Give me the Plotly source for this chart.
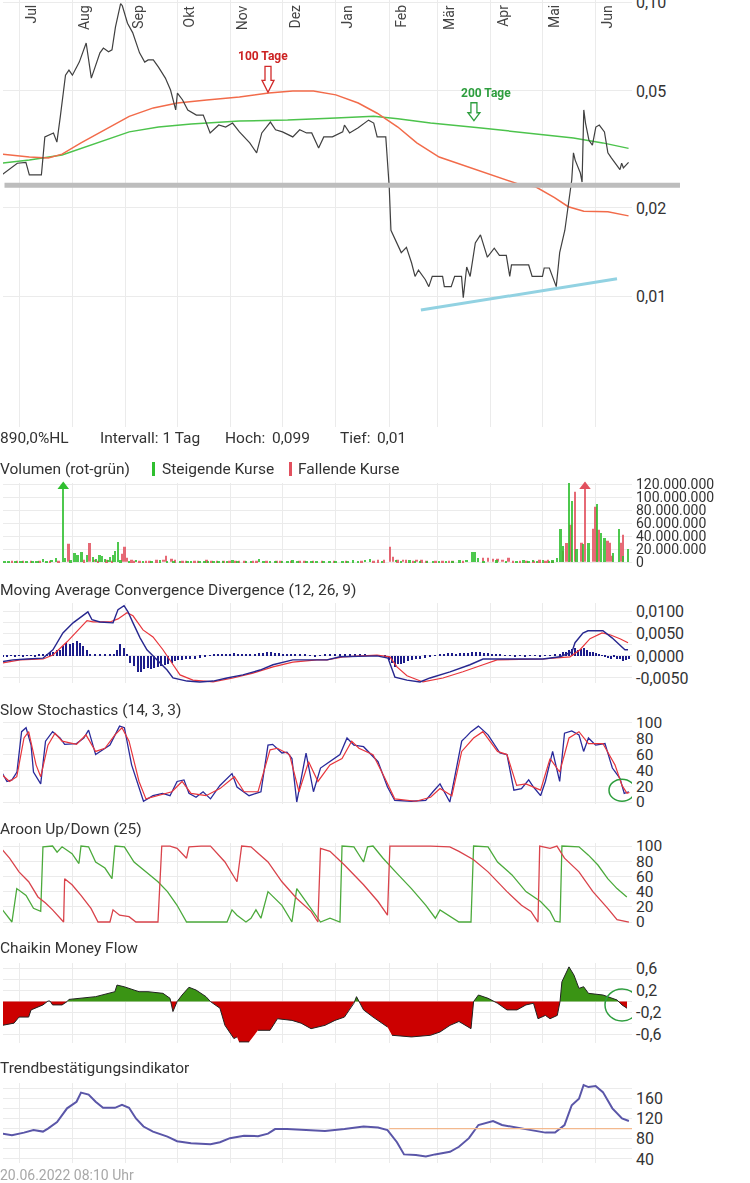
import math
import pandas as pd
import plotly.graph_objects as go

W, H = 750, 1183
BASE = pd.Timestamp("2021-07-01")
X_RANGE = [-9.3, 356.0]          # days relative to 2021-07-01

month_days = [0, 31, 62, 92, 123, 153, 184, 215, 243, 274, 304, 335]
month_labels = ["Jul", "Aug", "Sep", "Okt", "Nov", "Dez", "Jan", "Feb", "Mär", "Apr", "Mai", "Jun"]

# ---------------- price panel (day, value) ----------------
price_pts = [
    (-10, 0.0259), (-1, 0.0284), (4, 0.0286), (6, 0.0259), (13, 0.0259), (14, 0.0298), (15, 0.0349), (20, 0.036),
    (22, 0.0335), (24, 0.041), (27, 0.0566), (29, 0.0589), (31, 0.0566), (35, 0.0627), (38, 0.0705), (39, 0.0728),
    (42, 0.0553), (45, 0.0622), (47, 0.0674), (49, 0.07), (52, 0.068), (54, 0.069), (56, 0.0825), (59, 0.0992),
    (60, 0.0975), (63, 0.085), (66, 0.079), (70, 0.0674), (73, 0.0627), (75, 0.0638), (78, 0.0638), (81, 0.0603),
    (85, 0.0553), (88, 0.0504), (91, 0.0431), (92, 0.0492), (95, 0.0466), (98, 0.0431), (103, 0.0414), (107, 0.0414),
    (111, 0.036), (116, 0.0383), (120, 0.0377), (124, 0.0389), (128, 0.0363), (134, 0.0333), (138, 0.0308),
    (141, 0.036), (146, 0.0392), (149, 0.0369), (153, 0.0363), (159, 0.0349), (163, 0.0369), (167, 0.036),
    (170, 0.036), (174, 0.032), (177, 0.0349), (182, 0.0349), (188, 0.0363), (189, 0.0383), (192, 0.036),
    (197, 0.0375), (203, 0.0398), (206, 0.0389), (208, 0.0349), (213, 0.0349), (215, 0.0236), (216, 0.0168),
    (218, 0.0159), (222, 0.0141), (225, 0.0147), (228, 0.013), (230, 0.0117), (232, 0.0123), (236, 0.0114),
    (238, 0.0108), (240, 0.0117), (246, 0.0117), (247, 0.0108), (251, 0.0108), (253, 0.0117), (257, 0.0117),
    (258, 0.0099), (260, 0.0126), (262, 0.0117), (265, 0.0152), (268, 0.0162), (272, 0.0136), (276, 0.0146),
    (279, 0.0138), (283, 0.0138), (285, 0.0117), (286, 0.0128), (296, 0.0128), (298, 0.0117), (304, 0.0117),
    (305, 0.0125), (308, 0.0125), (312, 0.0108), (314, 0.0141), (317, 0.0168), (319, 0.0202), (321, 0.0249),
    (322, 0.0308), (323, 0.0291), (326, 0.0263), (327, 0.0245), (328, 0.0431), (329, 0.0389), (331, 0.034),
    (333, 0.0327), (335, 0.0377), (337, 0.0383), (340, 0.0363), (342, 0.0308), (344, 0.0296), (349, 0.027),
    (350, 0.0284), (351, 0.0274), (354, 0.0286)]
ma100_pts = [
    (-10, 0.0305), (6, 0.0298), (17, 0.0296), (25, 0.0305), (36, 0.0333), (50, 0.0369), (64, 0.041), (78, 0.0438),
    (92, 0.0455), (109, 0.0466), (128, 0.0477), (145, 0.0492), (159, 0.05), (171, 0.05), (184, 0.0485),
    (197, 0.0455), (208, 0.042), (220, 0.0377), (231, 0.0333), (244, 0.0298), (261, 0.0276), (278, 0.0255),
    (292, 0.0239), (300, 0.0236), (311, 0.0217), (319, 0.0202), (328, 0.0195), (342, 0.0194), (354, 0.0188)]
ma200_pts = [
    (-10, 0.0284), (6, 0.0291), (25, 0.0303), (45, 0.0333), (64, 0.0363), (81, 0.0377), (100, 0.0386),
    (128, 0.0395), (156, 0.0398), (184, 0.0405), (206, 0.041), (220, 0.0402), (239, 0.0389), (267, 0.0375),
    (294, 0.036), (322, 0.0346), (339, 0.0333), (354, 0.0319)]
support_pts = [(233.4, 0.00899), (347.3, 0.01149)]
gray_level = 0.0239
price_ticks = [0.01, 0.02, 0.05, 0.10]
price_ticktext = ["0,01", "0,02", "0,05", "0,10"]

# ---------------- volume (day, millions) ----------------
vol_up = [
    (-9, 2), (-8, 1), (-6, 1.5), (-2, 1.5), (0.6, 2), (2, 1), (4.5, 1.5), (8, 2), (10, 2), (11, 1.5), (14, 5),
    (16, 2), (19, 4), (21.5, 7), (25.7, 200), (27, 6), (30, 3), (32.5, 14), (34, 12), (36.4, 16), (39.7, 11),
    (43, 8), (45, 5), (47, 12), (48, 10), (50, 5), (52, 4), (53, 8), (55, 12), (56, 18), (57.5, 31), (59, 3),
    (64, 2), (68, 4), (72, 1.5), (77, 2), (82, 3), (86, 2), (90, 1.5), (93.5, 2), (98, 2), (100, 1.5),
    (105, 2.5), (108, 2), (110, 1.5), (113, 2), (116, 2), (118.6, 2.5), (121, 1.5), (124, 3), (127, 2),
    (132, 2), (135, 1.5), (139.5, 5), (142, 2), (146, 2), (149, 1.5), (153, 2.5), (156, 2), (159, 3),
    (162, 1.5), (167, 2), (170, 2), (173, 2), (177, 1.5), (180.6, 2), (184, 2), (188, 2), (191, 1.5), (194, 3),
    (197, 2), (201, 4), (204, 5), (211, 2), (219, 4), (222, 2), (227, 3), (230, 2), (233, 2.5), (237, 1.5),
    (240.5, 2), (244, 2), (248, 2), (252, 2), (256, 3), (260, 4), (263.5, 16), (264.8, 16), (266.7, 7),
    (270, 2), (277.4, 3), (283, 2), (289, 2), (293, 3), (296, 2), (298.5, 4), (301, 2), (304.5, 3), (308, 2),
    (310, 3), (312.6, 6), (314.6, 52), (316, 25), (319.6, 122), (321.3, 95), (324, 20), (327.7, 28),
    (331, 30), (335.8, 89), (338, 45), (340.3, 38), (345, 15), (348.6, 52), (351, 10), (353.8, 21)]
vol_dn = [
    (-4, 1.5), (-1, 1), (2.5, 1.5), (7, 1.5), (12, 2), (18, 1.5), (23, 2), (29, 28), (38, 3), (41, 30),
    (44, 4), (46, 2), (51, 3), (54, 2), (60, 13), (61.5, 24), (63, 7), (65.4, 3), (67, 2), (70, 2), (74, 2),
    (76, 1.5), (80, 3), (84, 4), (85.4, 10), (88.7, 5), (90.6, 3), (95, 2), (97, 1.5), (102, 2), (104, 1.5),
    (109, 3), (112, 2), (115, 1.5), (119, 1.5), (122.5, 2), (126, 2), (128, 2.5), (131, 1.5), (136, 2),
    (138, 2), (144, 1.5), (149.6, 2), (152, 2), (158, 2), (163, 2), (166, 1.5), (171, 1.5), (176, 2),
    (183, 2), (190, 1.5), (199, 2), (206, 2), (208.7, 3), (212, 3), (215.5, 24), (217.4, 8), (220, 3),
    (223, 4), (225, 3), (229, 2), (231, 3.5), (234, 3), (236.8, 2.5), (242, 2), (246, 2), (250, 2),
    (252, 2.5), (258, 2), (269.6, 7), (272.5, 6), (275.4, 5), (278, 5), (281, 4), (284.5, 6), (287, 2),
    (291, 2), (295, 2), (299, 2), (302.5, 3), (306, 2), (307.4, 3), (310, 2), (316, 18), (318, 29),
    (320.4, 57), (322.9, 108), (326.8, 29), (328.7, 200), (333.5, 52), (334.9, 85), (336.8, 49), (341.9, 33),
    (343.2, 30), (344.2, 9), (350, 29), (350.8, 42)]
vol_clipped_up = [(25.7, 116)]
vol_clipped_dn = [(328.7, 116)]
vol_ticks = [0, 20, 40, 60, 80, 100, 120]
vol_ticktext = ["0", "20.000.000", "40.000.000", "60.000.000", "80.000.000", "100.000.000", "120.000.000"]

# ---------------- MACD ----------------
macd_pts = [
    (-10, -0.0013), (-3.5, -0.0009), (4.6, -0.0007), (14, -0.0005), (19.7, 0.0014), (25.5, 0.0052), (31.4, 0.0075),
    (37.2, 0.0093), (40, 0.01), (42.4, 0.0082), (47, 0.0077), (54.6, 0.0075), (57.5, 0.0105), (61, 0.0114),
    (63.3, 0.01), (66.2, 0.0075), (70.3, 0.0041), (74.3, 0.0014), (80.1, -0.0009), (86, -0.0032), (89.4, -0.005),
    (97.6, -0.0057), (105, -0.0059), (112.7, -0.0057), (120.8, -0.005), (130, -0.0043), (140, -0.0032),
    (147.5, -0.002), (159, -0.0009), (173, -0.0009), (178.9, -0.0009), (186.4, -0.0002), (207.9, 0.0),
    (214.3, -0.0005), (216.6, -0.0032), (218.3, -0.0048), (225.3, -0.0055), (232.9, -0.0059), (238.7, -0.005),
    (250.3, -0.0036), (261.9, -0.002), (269.5, -0.0007), (285.1, -0.0007), (304.3, -0.0007), (314.2, -0.0002),
    (321.1, 0.0009), (322.9, 0.003), (327.5, 0.0052), (330.4, 0.0057), (339.1, 0.0057), (344.4, 0.0041),
    (349, 0.0025), (351.9, 0.0014), (353.7, 0.0014)]
signal_pts = [
    (-9.9, -0.0016), (0.6, -0.0009), (14, -0.0007), (19.7, 0.0002), (27.9, 0.0032), (33.7, 0.0055), (39.5, 0.008),
    (43, 0.0077), (52.8, 0.0077), (57.5, 0.0084), (62.7, 0.0098), (66.2, 0.0091), (72, 0.0059), (77.8, 0.0043),
    (83.6, 0.0014), (88.8, -0.0016), (93.5, -0.0043), (101, -0.0055), (112.7, -0.0059), (124.3, -0.005),
    (135.9, -0.0039), (147.5, -0.0025), (159, -0.0014), (173, -0.0009), (178.9, -0.0009), (188.1, -0.0002),
    (207.9, 0.0002), (215.4, -0.0002), (219.5, -0.0025), (225.3, -0.0045), (234.6, -0.0059), (246.2, -0.005),
    (257.8, -0.0036), (269.5, -0.002), (277.6, -0.0009), (304.3, -0.0007), (320, -0.0002), (325.8, 0.0014),
    (331.6, 0.0039), (338.6, 0.0052), (343.2, 0.0048), (349, 0.0039), (353.7, 0.003)]
hist_pts = [
    (-9.3, -0.0002), (-7, -0.0002), (-4.6, 0.0002), (-2.3, -0.0002), (0, 0.0002), (2.3, -0.0002), (4.6, 0.0002),
    (7, 0.0002), (9.3, -0.0001), (11.6, 0.0003), (14, 0.0003), (16.3, 0.0005), (18, 0.0008), (19.7, 0.001),
    (22, 0.0014), (23.8, 0.0014), (25.5, 0.0023), (27.3, 0.003), (29.6, 0.0027), (31.4, 0.003), (33.7, 0.0034),
    (35.4, 0.003), (37.2, 0.0023), (39.5, 0.0014), (41.2, 0.0005), (44.1, 0.0003), (47, 0.0003), (50, 0.0004),
    (52.8, 0.0003), (55.2, 0.0005), (56.9, 0.0014), (58.7, 0.0027), (61, 0.0018), (62.7, 0.0005),
    (64.5, -0.0015), (66.8, -0.0022), (69.1, -0.0036), (70.8, -0.0036), (72.6, -0.003), (74.9, -0.0027),
    (76.7, -0.003), (78.4, -0.0027), (80.7, -0.0025), (82.5, -0.0023), (84.8, -0.002), (86.5, -0.0018),
    (88.8, -0.0015), (90.6, -0.0012), (92.3, -0.0009), (94.7, -0.0009), (97, -0.0008), (99.3, -0.0006),
    (102.2, -0.0007), (105.1, -0.0004), (108, -0.0003), (110.9, 0.0002), (113.2, 0.0003), (115.6, 0.0004),
    (117.9, 0.0005), (120.2, 0.0005), (122.5, 0.0004), (124.8, 0.0006), (127.2, 0.0005), (129.5, 0.0003),
    (131.8, 0.0005), (134.1, 0.0004), (137, 0.0004), (139.4, 0.0006), (141.7, 0.0007), (144, 0.0008),
    (146.3, 0.0008), (148.7, 0.0007), (151, 0.0006), (153.3, 0.0005), (155.6, 0.0004), (158, 0.0003),
    (160.3, 0.0004), (163.2, 0.0003), (166.1, 0.0003), (169, 0.0002), (171.9, -0.0002), (174.8, 0.0002),
    (177.7, 0.0003), (180.6, 0.0004), (183.5, 0.0003), (186.4, 0.0004), (189.3, 0.0004), (192.2, 0.0003),
    (195.1, 0.0003), (198, 0.0004), (200.9, 0.0004), (203.8, 0.0002), (206.7, 0.0002), (209.6, 0.0002),
    (212.5, -0.0003), (214.9, -0.001), (216.6, -0.0015), (218.3, -0.0025), (220.1, -0.0018), (221.8, -0.0018),
    (223.6, -0.0015), (225.9, -0.0012), (228.2, -0.0009), (230.5, -0.0007), (232.9, -0.0006), (235.8, -0.0004),
    (238.7, -0.0002), (241.6, 0.0002), (244.5, 0.0004), (246.8, 0.0005), (249.1, 0.0006), (251.4, 0.0006),
    (253.8, 0.0005), (256.1, 0.0006), (258.4, 0.0006), (260.7, 0.0007), (263.1, 0.0009), (265.4, 0.0009),
    (267.7, 0.0008), (270, 0.0007), (272.4, 0.0006), (274.7, 0.0005), (277, 0.0004), (279.3, 0.0003),
    (282.2, 0.0002), (285.1, 0.0002), (288, -0.0002), (290.9, 0.0002), (293.8, -0.0002), (296.7, 0.0002),
    (299.6, 0.0002), (302.5, -0.0002), (305.5, 0.0002), (308.4, 0.0002), (311.3, 0.0003), (314.2, 0.0005),
    (315.9, 0.0008), (317.6, 0.001), (319.4, 0.0014), (321.1, 0.0016), (322.9, 0.0018), (324.6, 0.0014),
    (326.4, 0.0016), (328.1, 0.0018), (329.8, 0.0014), (331.6, 0.001), (333.3, 0.0008), (335.1, 0.0006),
    (336.8, 0.0004), (338.6, 0.0002), (340.3, -0.0003), (342, -0.0005), (343.8, -0.0007), (345.5, -0.0003),
    (347.3, -0.0006), (349, -0.0008), (350.7, -0.0011), (352.5, -0.0009), (354.2, -0.0008)]
macd_ticks = [-0.005, 0.0, 0.005, 0.01]
macd_ticktext = ["-0,0050", "0,0000", "0,0050", "0,0100"]

# ---------------- Slow stochastics ----------------
stoch_k_days = [-9.6, -7, -4.1, -1.2, 1.5, 4.1, 7, 8.4, 12.6, 15.4, 19.5, 23.8, 26.5, 33.4, 37.6, 40.4, 44.5, 48.8,
                52.8, 58.4, 61.2, 65.4, 72.3, 77.8, 83.4, 87.7, 91.8, 95.8, 98.7, 102.8, 106.9, 111.2, 116.7, 123.7,
                126.6, 133.6, 140.5, 144.6, 147.3, 152.7, 155.6, 158.5, 161.3, 166.7, 171, 175.1, 180.6, 186.4,
                190.5, 194.5, 200.1, 208.5, 214, 218.2, 227.9, 236.2, 240.4, 244.5, 250.2, 257.1, 259.9, 262.5,
                266.8, 272.4, 279.3, 283.4, 287.4, 291.8, 296, 298.8, 302.9, 305.7, 309.9, 314, 316.8, 321, 325.2,
                327.9, 330.7, 334.9, 340.3, 344.6, 349, 351.5, 354.2]
stoch_k_vals = [36, 26, 28, 38, 89, 94, 72, 38, 23, 77, 89, 81, 73, 74, 81, 91, 60, 66, 72, 96, 94, 47, 1, 8, 11,
                8, 26, 28, 11, 6, 13, 4, 21, 36, 19, 8, 13, 72, 73, 62, 63, 55, 0, 62, 13, 43, 51, 60, 81, 72, 70,
                51, 19, 2, 1, 2, 13, 23, 0, 77, 83, 89, 96, 85, 62, 60, 15, 17, 28, 19, 8, 26, 64, 26, 87, 90, 85,
                64, 81, 72, 74, 43, 30, 11, 13]
stoch_d_days = [-9.6, -5.5, -1.3, 2.9, 5.6, 9.9, 12.6, 16.8, 20.9, 25, 33.4, 38.9, 44.5, 49.9, 55.7, 59.8, 63.9,
                69.7, 73.7, 80.7, 88.8, 94.7, 99.9, 108.6, 116.7, 125.1, 130.7, 138.8, 145.8, 150.1, 157.1, 162.6,
                168.2, 173.6, 180.6, 187.6, 193.2, 197.4, 205.6, 212.5, 218.2, 230.5, 239, 244.5, 251.4, 257.1, 264,
                269.4, 277.9, 283.4, 289, 294.4, 302.9, 308.4, 314, 319.4, 325.2, 330.7, 339.1, 346.1, 350.2, 353.1,
                354.5]
stoch_d_vals = [34, 26, 32, 81, 89, 47, 32, 72, 87, 77, 73, 85, 64, 68, 85, 94, 77, 26, 4, 8, 13, 26, 11, 8, 17,
                32, 13, 13, 66, 68, 60, 13, 51, 26, 47, 55, 77, 68, 60, 30, 4, 1, 6, 17, 8, 64, 81, 89, 64, 60, 21,
                23, 15, 55, 38, 81, 89, 74, 74, 47, 21, 11, 12]
pct_ticks = [0, 20, 40, 60, 80, 100]
pct_ticktext = ["0", "20", "40", "60", "80", "100"]
stoch_mark = (350.2, 15)

# ---------------- Aroon ----------------
aroon_up = [
    (-9.6, 16), (-4.1, 0), (-1.3, 44), (4.1, 35), (8.4, 18), (12.6, 14), (13.9, 99), (19.5, 100), (22.1, 92),
    (25, 99), (30.8, 90), (34.8, 77), (36, 100), (40.4, 99), (44.5, 79), (49.9, 71), (54, 57), (55.7, 100),
    (61.2, 99), (66.8, 79), (74.9, 64), (80.7, 53), (86.2, 40), (91.8, 22), (97.3, 0), (120.8, 0), (123.7, 16),
    (126.6, 9), (131.8, 0), (134.7, 5), (137.6, 16), (140.5, 5), (144.6, 40), (148.7, 31), (152.7, 22),
    (158.5, 0), (161.3, 44), (166.7, 27), (172.5, 9), (175.1, 0), (180.6, 5), (186.4, 0), (187.6, 100),
    (194.5, 99), (200.1, 79), (202.4, 99), (205.6, 100), (211.4, 84), (219.5, 64), (227.9, 44), (236.3, 22),
    (241.8, 5), (244.5, 16), (250.3, 7), (255.5, 0), (262.5, 0), (264, 100), (272.4, 99), (277.9, 79),
    (286.3, 62), (294.4, 40), (302.9, 27), (308.4, 14), (311.3, 1), (314.2, 0), (315.3, 100), (325.2, 99),
    (330.7, 88), (336.2, 75), (341.9, 57), (347.3, 44), (353, 33)]
aroon_dn = [
    (-9.6, 95), (-5.5, 84), (0, 66), (5.6, 53), (11, 33), (15.4, 25), (19.5, 16), (23.8, 5), (25.9, 0), (26.5, 57),
    (30.8, 49), (36, 35), (41.8, 18), (45.9, 0), (52.8, 0), (54.6, 16), (58.4, 9), (63.9, 7), (67.9, 0), (80.7, 0),
    (82.9, 100), (87.7, 100), (91.8, 97), (97.3, 84), (98.7, 99), (105.7, 100), (111.2, 100), (119.6, 79),
    (126.6, 53), (129.3, 100), (134.7, 99), (144.6, 79), (152.7, 53), (161.3, 31), (169.6, 14), (173.6, 0),
    (175.1, 97), (180.6, 93), (189, 75), (200.1, 49), (208.5, 27), (214, 9), (215.4, 100), (225.1, 100),
    (239, 100), (250.2, 99), (255.5, 93), (264, 82), (272.4, 66), (283.4, 40), (291.8, 22), (297.3, 14),
    (301.4, 0), (302.4, 100), (308.4, 97), (312.4, 100), (316.8, 84), (325.2, 66), (333.3, 40), (341.9, 18),
    (347.3, 3), (354.2, 0)]

# ---------------- Chaikin money flow (None = gap) ----------------
cmf_pts = [
    (-9.6, -0.43), (-2.9, -0.39), (0, -0.28), (5.6, -0.28), (7, -0.15), (13.9, -0.06), (16.8, 0.01), (18, 0.01),
    (19.5, -0.06), (25, -0.06), (27.9, 0.0), (29, 0.04), (44.5, 0.09), (55.7, 0.18), (56.9, 0.3), (61, 0.27),
    (69.7, 0.18), (74.9, 0.18), (83.6, 0.15), (87.7, 0.06), (89.4, -0.18), (91.8, 0.0), (94.7, 0.12),
    (98.7, 0.26), (102.8, 0.21), (108.6, 0.09), (111.2, 0.0), (116.7, -0.12), (119.6, -0.43), (124.8, -0.67),
    (126.6, -0.64), None, (127.8, -0.73), (133.6, -0.73), None, (138.8, -0.52), (145.8, -0.52), (150.1, -0.31),
    (158.5, -0.34), (163.8, -0.39), (169.6, -0.49), (177.7, -0.43), (183.5, -0.34), (189, -0.28), (194.5, -0.03),
    (196, 0.09), (200.1, -0.15), (205.6, -0.28), (214, -0.46), None, (216.6, -0.61), (227.9, -0.64),
    (239, -0.61), (244.5, -0.55), (250.3, -0.43), (255.5, -0.36), (262.5, -0.49), (264, 0.0), (266.8, 0.12),
    (272.4, 0.06), (277.9, -0.03), (283.4, -0.15), (289.2, -0.15), (294.4, -0.06), (298.8, -0.03),
    (301.4, -0.31), (305.7, -0.25), (308.4, -0.31), (312.6, -0.25), (314.2, 0.0), (315.3, 0.36), (319.4, 0.63),
    (322.3, 0.48), (325.2, 0.24), (327.9, 0.27), (330.7, 0.15), (339.1, 0.12), (347.3, 0.03), (350.2, -0.06),
    (353.1, -0.12)]
cmf_ticks = [-0.6, -0.2, 0.2, 0.6]
cmf_ticktext = ["-0,6", "-0,2", "0,2", "0,6"]
cmf_mark = (350.2, -0.06)

# ---------------- Trendbestätigungsindikator ----------------
tbi_pts = [
    (-9.6, 90), (-4.1, 87), (2.9, 92), (8.4, 97), (13.9, 94), (16.8, 100), (22.1, 113), (27.9, 140), (33.4, 153),
    (36, 171), (40.4, 167), (44.5, 153), (48.8, 141), (55.7, 141), (59.8, 147), (63.9, 141), (67.9, 120),
    (72.3, 104), (77.8, 94), (86.2, 84), (91.8, 75), (99.9, 71), (111.2, 69), (116.7, 73), (122.5, 81),
    (130.7, 86), (138.8, 85), (144.6, 90), (148.7, 99), (155.6, 99), (166.7, 97), (177.7, 95), (189, 99),
    (194.5, 102), (200.1, 104), (208.5, 102), (214, 97), (219.5, 73), (223.6, 49), (230.5, 48), (236.3, 45),
    (241.6, 49), (250.3, 54), (255.5, 64), (261.3, 81), (266.8, 107), (275.3, 115), (280.5, 107), (289.2, 102),
    (297.3, 97), (305.7, 92), (311.3, 92), (316.8, 107), (321, 146), (325.2, 159), (327.9, 186), (330.7, 182),
    (334.9, 184), (339.1, 172), (344.6, 140), (350.2, 120), (354.2, 115)]
tbi_ref_level = 100
tbi_ref_start = 215
tbi_ticks = [40, 80, 120, 160]
tbi_ticktext = ["40", "80", "120", "160"]

# ======================================================================
FONT = "Roboto, Open Sans, sans-serif"
TXT = "#333333"
GRID = "#ebebeb"


def dt(v):
    return None if v is None else BASE + pd.Timedelta(days=float(v))


def xs(pts):
    return [None if p is None else dt(p[0]) for p in pts]


def ys(pts):
    return [None if p is None else p[1] for p in pts]


def split_sign(pts):
    px, py, nx, ny = [], [], [], []
    prev = None
    for p in pts:
        if p is None:
            for L in (px, py, nx, ny):
                L.append(None)
            prev = None
            continue
        x, y = p
        if prev is not None and prev[1] != 0 and y != 0 and (prev[1] > 0) != (y > 0):
            t = prev[1] / (prev[1] - y)
            xc = prev[0] + t * (x - prev[0])
            px.append(dt(xc)); py.append(0); nx.append(dt(xc)); ny.append(0)
        px.append(dt(x)); py.append(max(y, 0))
        nx.append(dt(x)); ny.append(min(y, 0))
        prev = p
    return px, py, nx, ny


# panel pixel extents (top, bottom)
panels = [(0, 427), (482.7, 563.3), (603, 683), (720.6, 804.4), (843, 924.3), (963, 1043), (1083, 1163)]

fig = go.Figure()


def ax(i):
    return ("x" if i == 0 else f"x{i+1}", "y" if i == 0 else f"y{i+1}")


# price
xa, ya = ax(0)
fig.add_trace(go.Scatter(x=xs(ma200_pts), y=ys(ma200_pts), mode="lines", line=dict(color="#4cc34c", width=1.5),
                         xaxis=xa, yaxis=ya))
fig.add_trace(go.Scatter(x=xs(ma100_pts), y=ys(ma100_pts), mode="lines", line=dict(color="#f26b4a", width=1.5),
                         xaxis=xa, yaxis=ya))
fig.add_trace(go.Scatter(x=xs(price_pts), y=ys(price_pts), mode="lines", line=dict(color="#404040", width=1.2),
                         xaxis=xa, yaxis=ya))
fig.add_trace(go.Scatter(x=xs(support_pts), y=ys(support_pts), mode="lines", line=dict(color="#92d2e2", width=3),
                         xaxis=xa, yaxis=ya))

# volume
xa, ya = ax(1)
bw = 1.15 * 86400000
fig.add_trace(go.Bar(x=xs(vol_dn), y=ys(vol_dn), marker=dict(color="#e2505e", line_width=0), width=bw,
                     opacity=0.85, xaxis=xa, yaxis=ya))
fig.add_trace(go.Bar(x=xs(vol_up), y=ys(vol_up), marker=dict(color="#2fbf2f", line_width=0), width=bw,
                     opacity=0.85, xaxis=xa, yaxis=ya))
fig.add_trace(go.Scatter(x=xs(vol_clipped_up), y=ys(vol_clipped_up), mode="markers", cliponaxis=False,
                         marker=dict(symbol="triangle-up", size=10, color="#2fbf2f"), xaxis=xa, yaxis=ya))
fig.add_trace(go.Scatter(x=xs(vol_clipped_dn), y=ys(vol_clipped_dn), mode="markers", cliponaxis=False,
                         marker=dict(symbol="triangle-up", size=10, color="#e2505e"), xaxis=xa, yaxis=ya))

# MACD
xa, ya = ax(2)
fig.add_trace(go.Bar(x=xs(hist_pts), y=ys(hist_pts), marker=dict(color="#1c1c8a", line_width=0),
                     width=0.8 * 86400000, xaxis=xa, yaxis=ya))
fig.add_trace(go.Scatter(x=xs(signal_pts), y=ys(signal_pts), mode="lines", line=dict(color="#e8363c", width=1.2),
                         xaxis=xa, yaxis=ya))
fig.add_trace(go.Scatter(x=xs(macd_pts), y=ys(macd_pts), mode="lines", line=dict(color="#27278f", width=1.4),
                         xaxis=xa, yaxis=ya))

# stochastics
xa, ya = ax(3)
fig.add_trace(go.Scatter(x=[dt(v) for v in stoch_k_days], y=stoch_k_vals, mode="lines",
                         line=dict(color="#2a2a9a", width=1.3), xaxis=xa, yaxis=ya))
fig.add_trace(go.Scatter(x=[dt(v) for v in stoch_d_days], y=stoch_d_vals, mode="lines",
                         line=dict(color="#e8363c", width=1.2), xaxis=xa, yaxis=ya))

# aroon
xa, ya = ax(4)
fig.add_trace(go.Scatter(x=xs(aroon_up), y=ys(aroon_up), mode="lines", line=dict(color="#4caa3c", width=1.3),
                         xaxis=xa, yaxis=ya))
fig.add_trace(go.Scatter(x=xs(aroon_dn), y=ys(aroon_dn), mode="lines", line=dict(color="#d9434b", width=1.3),
                         xaxis=xa, yaxis=ya))

# chaikin
xa, ya = ax(5)
px_, py_, nx_, ny_ = split_sign(cmf_pts)
fig.add_trace(go.Scatter(x=px_, y=py_, mode="lines", fill="tozeroy", fillcolor="#3a9414", line=dict(width=0),
                         xaxis=xa, yaxis=ya))
fig.add_trace(go.Scatter(x=nx_, y=ny_, mode="lines", fill="tozeroy", fillcolor="#cc0000", line=dict(width=0),
                         xaxis=xa, yaxis=ya))
fig.add_trace(go.Scatter(x=xs(cmf_pts), y=ys(cmf_pts), mode="lines", line=dict(color="#222222", width=1),
                         connectgaps=False, xaxis=xa, yaxis=ya))

# trend indicator
xa, ya = ax(6)
fig.add_trace(go.Scatter(x=xs(tbi_pts), y=ys(tbi_pts), mode="lines", line=dict(color="#5a56a8", width=2),
                         xaxis=xa, yaxis=ya))

# ---------------- axes ----------------
month_dates = [dt(m) for m in month_days] + [dt(X_RANGE[1] - 0.05)]
yaxis_specs = [
    dict(type="log", range=[-2.444, -0.9915], tickvals=price_ticks, ticktext=price_ticktext, tickfont_size=16),
    dict(range=[-2, 122], tickvals=vol_ticks, ticktext=vol_ticktext, tickfont_size=14),
    dict(range=[-0.00614, 0.012], tickvals=macd_ticks, ticktext=macd_ticktext, tickfont_size=16,
         minor=dict(dtick=0.0025, tick0=0, showgrid=True, gridcolor=GRID, ticks="")),
    dict(range=[-3, 103], tickvals=pct_ticks, ticktext=pct_ticktext, tickfont_size=15.5),
    dict(range=[-3, 104], tickvals=pct_ticks, ticktext=pct_ticktext, tickfont_size=15.5),
    dict(range=[-0.75, 0.7], tickvals=cmf_ticks, ticktext=cmf_ticktext, tickfont_size=16,
         minor=dict(dtick=0.2, tick0=0, showgrid=True, gridcolor=GRID, ticks="")),
    dict(range=[32, 190], tickvals=tbi_ticks, ticktext=tbi_ticktext, tickfont_size=16,
         minor=dict(dtick=20, tick0=0, showgrid=True, gridcolor=GRID, ticks="")),
]
layout_axes = {}
for i, (top, bot) in enumerate(panels):
    xa, ya = ax(i)
    xname = "xaxis" if i == 0 else f"xaxis{i+1}"
    yname = "yaxis" if i == 0 else f"yaxis{i+1}"
    xd = dict(domain=[3 / W, 632 / W], anchor=ya, type="date", range=[dt(X_RANGE[0]), dt(X_RANGE[1])],
              tickmode="array", tickvals=month_dates, showticklabels=False, showgrid=True, gridcolor=GRID,
              gridwidth=1, zeroline=False, showline=False, ticks="", automargin=False)
    if i > 0:
        xd["matches"] = "x"
    layout_axes[xname] = xd
    yd = dict(domain=[1 - bot / H, 1 - top / H], anchor=xa, side="right", showgrid=True, gridcolor=GRID,
              zeroline=False, showline=False, ticks="", tickfont=dict(family=FONT, color=TXT),
              ticklabelstandoff=3, automargin=False, ticklabeloverflow="allow")
    yd.update(yaxis_specs[i])
    fs = yd.pop("tickfont_size")
    yd["tickfont"]["size"] = fs
    layout_axes[yname] = yd

fig.update_layout(**layout_axes)

# ---------------- shapes ----------------
shapes = [
    dict(type="line", xref="x7", yref="y7", x0=dt(tbi_ref_start), x1=dt(X_RANGE[1]), y0=tbi_ref_level,
         y1=tbi_ref_level, line=dict(color="#f3b98e", width=1.3)),
    dict(type="circle", xref="x4", yref="y4", xsizemode="pixel", ysizemode="pixel", xanchor=dt(stoch_mark[0]),
         yanchor=stoch_mark[1], x0=-13, x1=13, y0=-11, y1=11, line=dict(color="#2e9e3e", width=1.5)),
    dict(type="circle", xref="x6", yref="y6", xsizemode="pixel", ysizemode="pixel", xanchor=dt(cmf_mark[0]),
         yanchor=cmf_mark[1], x0=-17, x1=17, y0=-16, y1=16, line=dict(color="#2e9e3e", width=1.5)),
    # legend swatches of the volume title
    dict(type="rect", xref="paper", yref="paper", x0=152 / W, x1=155 / W, y0=1 - 476 / H, y1=1 - 462 / H,
         fillcolor="#2fbf2f", line_width=0),
    dict(type="rect", xref="paper", yref="paper", x0=289 / W, x1=292 / W, y0=1 - 476 / H, y1=1 - 462 / H,
         fillcolor="#e2505e", line_width=0),
]
# hollow arrows for the moving-average labels
shapes.append(dict(type="path", xref="x", yref="y", xsizemode="pixel", ysizemode="pixel", xanchor=dt(144.6),
                   yanchor=0.0548, path="M -3 13 L 3 13 L 3 -1 L 6 -1 L 0 -13 L -6 -1 L -3 -1 Z",
                   fillcolor="white", line=dict(color="#d12a2a", width=1.3)))
shapes.append(dict(type="path", xref="x", yref="y", xsizemode="pixel", ysizemode="pixel", xanchor=dt(264.2),
                   yanchor=0.0425, path="M -3 9 L 3 9 L 3 -1 L 6 -1 L 0 -9 L -6 -1 L -3 -1 Z",
                   fillcolor="white", line=dict(color="#2e9e3e", width=1.3)))

# ---------------- annotations ----------------
ann = []
# grey horizontal level: drawn as an arrow-less annotation line so it can run under the axis labels
ann.append(dict(xref="paper", yref="y", x=680 / W, y=math.log10(gray_level), text="", showarrow=True,
                axref="pixel", ayref="pixel", ax=-677, ay=0, arrowhead=0, arrowwidth=5, arrowcolor="#bdbdbd",
                standoff=0, startstandoff=0))
for d, lab in zip(month_days, month_labels):
    ann.append(dict(xref="x", yref="paper", x=dt(d + 7), y=1 - 3 / H, text=lab, textangle=-90, showarrow=False,
                    xanchor="center", yanchor="top", font=dict(family=FONT, size=14, color="#444444")))


def label(xpx, ypx, text, size=15.5, color=TXT):
    ann.append(dict(xref="paper", yref="paper", x=xpx / W, y=1 - ypx / H, text=text, showarrow=False,
                    xanchor="left", yanchor="middle", font=dict(family=FONT, size=size, color=color)))


label(-2, 438, "890,0%HL")
label(98, 438, "Intervall: 1 Tag")
label(223, 438, "Hoch:")
label(270, 438, "0,099")
label(338, 438, "Tief:")
label(375, 438, "0,01")
label(-2, 469, "Volumen (rot-grün)")
label(160, 469, "Steigende Kurse")
label(296, 469, "Fallende Kurse")
label(-2, 590, "Moving Average Convergence Divergence (12, 26, 9)")
label(-2, 710, "Slow Stochastics (14, 3, 3)")
label(-2, 829, "Aroon Up/Down (25)")
label(-2, 948, "Chaikin Money Flow")
label(-2, 1068, "Trendbestätigungsindikator")
label(-2, 1175, "20.06.2022 08:10 Uhr", size=14, color="#a8a8a8")

ann.append(dict(xref="x", yref="y", x=dt(141.7), y=-1.182, text="<b>100 Tage</b>", showarrow=False,
                font=dict(family=FONT, size=12, color="#cc2222")))
ann.append(dict(xref="x", yref="y", x=dt(271.2), y=-1.308, text="<b>200 Tage</b>", showarrow=False,
                font=dict(family=FONT, size=12, color="#2e9e3e")))

fig.update_layout(width=W, height=H, margin=dict(l=0, r=0, t=0, b=0, autoexpand=False),
                  paper_bgcolor="white", plot_bgcolor="white", showlegend=False, barmode="overlay", bargap=0,
                  shapes=shapes, annotations=ann, font=dict(family=FONT, color=TXT))

fig.write_html("out.html", config={"displayModeBar": False},
               post_script="document.body.style.margin='0';document.body.style.padding='0';")
